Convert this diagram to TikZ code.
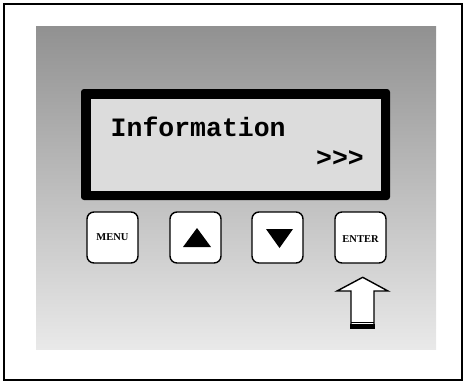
\documentclass[tikz,border=0pt]{standalone}
\usepackage{fontspec}
\newfontfamily\lcdfont{Liberation Mono}
\newfontfamily\keyfont{Liberation Serif}
\definecolor{paneltop}{RGB}{145,145,145}
\definecolor{panelbot}{RGB}{233,233,233}
\definecolor{lcdbg}{RGB}{220,220,220}
\begin{document}
\begin{tikzpicture}[x=1bp,y=-1bp,
  keybox/.style={draw=black,line width=1.4bp,fill=white,rounded corners=7bp,minimum width=51bp,minimum height=51bp,inner sep=0pt},
  keylabel/.style={font=\keyfont\bfseries\fontsize{10.5bp}{12bp}\selectfont},
  lcdtext/.style={font=\lcdfont\bfseries\fontsize{26.5bp}{30bp}\selectfont,inner sep=0pt}]
\useasboundingbox (0,0) rectangle (465,383);
\draw[line width=2bp] (4,3.5) rectangle (462,380);
\shade[top color=paneltop,bottom color=panelbot] (36,26) rectangle (436,349);
% display
\fill[black,rounded corners=3bp] (81,89) rectangle (390,200);
\fill[lcdbg] (91,99) rectangle (381,191);
\node[lcdtext,anchor=base west] (info) at (110.5,136) {Information};
\node[lcdtext,anchor=base east] (more) at (364,166) {>>>};
% keys
\node[keybox] (menu) at (112.5,237.5) {};
\node[keylabel] (menut) at (menu.center) {MENU};
\node[keybox] (up) at (195.5,237.5) {};
\node[keybox] (down) at (277.5,237.5) {};
\node[keybox] (enter) at (360.5,237.5) {};
\node[keylabel] (entert) at ([yshift=-1.5bp]enter.center) {ENTER};
\fill (183,247) -- (211,247) -- (197,228) -- cycle;
\fill (266,229) -- (293,229) -- (279.5,248) -- cycle;
% push arrow
\draw[fill=white,line width=1.4bp,line join=miter] (351,328) -- (351,291) -- (337,291) -- (362.7,277.3) -- (388,291) -- (374,291) -- (374,328) -- cycle;
\draw[line width=1bp] (351,322) -- (374,322);
\fill (350.3,324.3) rectangle (374.7,329.3);
\end{tikzpicture}
\end{document}
